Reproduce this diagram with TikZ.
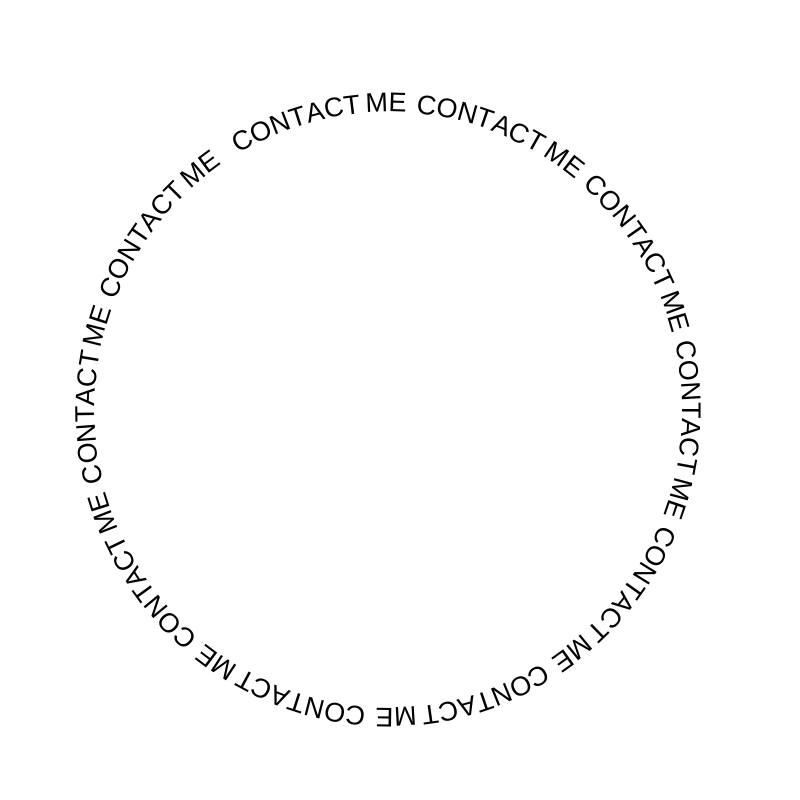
\documentclass[tikz,border=0pt]{standalone}
\usepackage{fontspec}
\newfontfamily\ringfont{Liberation Sans}
\usetikzlibrary{decorations.text}

\begin{document}
\begin{tikzpicture}[x=1pt, y=1pt]
\useasboundingbox (0,0) rectangle (800,800);
\coordinate (ctr) at (388.5,390);
\path[decorate, decoration={text along path, text format delimiters={|}{|},
	text={|\ringfont\fontsize{27}{30}\selectfont|CONTACT{\hspace{4.5pt}}ME{\hspace{9.5pt}}CONTACT{\hspace{4.5pt}}ME{\hspace{9.5pt}}CONTACT{\hspace{4.5pt}}ME{\hspace{9.5pt}}CONTACT{\hspace{4.5pt}}ME{\hspace{9.5pt}}CONTACT{\hspace{4.5pt}}ME{\hspace{9.5pt}}CONTACT{\hspace{4.5pt}}ME{\hspace{9.5pt}}CONTACT{\hspace{4.5pt}}ME{\hspace{9.5pt}}CONTACT{\hspace{4.5pt}}ME{\hspace{9.5pt}}CONTACT{\hspace{4.5pt}}ME{\hspace{9.5pt}}CONTACT{\hspace{4.5pt}}ME}}]
	(ctr) ++(120.7:294 and 298) arc[start angle=120.7, end angle=-239.3, x radius=294, y radius=298];
\end{tikzpicture}
\end{document}
